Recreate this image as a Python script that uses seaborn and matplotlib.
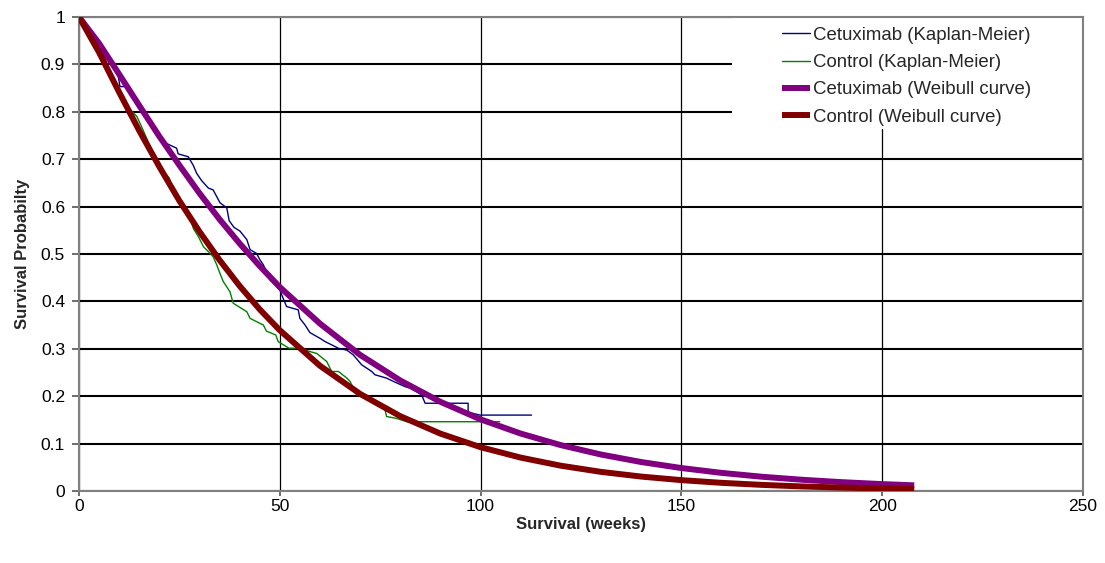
import matplotlib
matplotlib.use("Agg")
import matplotlib.pyplot as plt
from matplotlib.patches import Rectangle
import pandas as pd
import seaborn as sns

# Kaplan-Meier estimates: time in weeks, survival probability
cetuximab_km_weeks = [0, 3, 6, 9.8, 10.2, 11.5, 15, 20, 21.8, 24.3, 24.7, 27.2, 28.5,
                      29.3, 30.5, 32.2, 33.4, 35.1, 36.8, 37.4, 38.6, 40.1, 41.8, 42.6,
                      44.2, 45.1, 45.9, 47.6, 48.8, 50.0, 50.9, 51.7, 54.6, 55.0, 56.3,
                      57.5, 60.0, 61.3, 64.6, 66.7, 68.3, 70.4, 72.9, 73.7, 76.6, 78.3,
                      81.2, 82.4, 84.1, 85.3, 86.2, 96.9, 96.9, 99.9, 112.7]
cetuximab_km_surv = [1.0, 0.965, 0.93, 0.874, 0.853, 0.853, 0.81, 0.75, 0.733, 0.723, 0.711,
                     0.705, 0.686, 0.670, 0.655, 0.639, 0.635, 0.608, 0.597, 0.570, 0.556,
                     0.548, 0.530, 0.509, 0.501, 0.487, 0.477, 0.445, 0.435, 0.424, 0.405,
                     0.389, 0.382, 0.364, 0.350, 0.334, 0.322, 0.315, 0.301, 0.297, 0.287,
                     0.266, 0.252, 0.245, 0.238, 0.231, 0.220, 0.217, 0.209, 0.203, 0.185,
                     0.185, 0.166, 0.160, 0.160]

control_km_weeks = [0, 3.5, 6, 8, 10, 11, 14.4, 15.6, 18.5, 20.2, 21.2, 22.5, 23.5, 25.1,
                    26.2, 27.6, 28.5, 29.7, 31.0, 32.2, 33.4, 34.3, 35.1, 35.9, 37.6, 38.4,
                    41.8, 42.6, 45.9, 46.7, 49.0, 49.6, 52.3, 55.0, 57.5, 59.2, 61.7, 62.9,
                    64.6, 66.7, 67.5, 69.1, 71.2, 72.5, 74.1, 76.2, 76.6, 79.1, 81.6, 104.8]
control_km_surv = [1.0, 0.965, 0.92, 0.88, 0.845, 0.82, 0.79, 0.768, 0.712, 0.690, 0.672,
                   0.660, 0.628, 0.614, 0.600, 0.578, 0.553, 0.537, 0.515, 0.505, 0.494,
                   0.477, 0.459, 0.442, 0.420, 0.396, 0.378, 0.364, 0.350, 0.337, 0.329,
                   0.315, 0.301, 0.301, 0.294, 0.290, 0.273, 0.252, 0.252, 0.238, 0.231,
                   0.203, 0.196, 0.192, 0.181, 0.171, 0.157, 0.153, 0.146, 0.146]

# Fitted Weibull survival curves, tabulated in weeks
weibull_weeks = [0, 5, 10, 15, 20, 25, 30, 35, 40, 45, 50, 60, 70, 80, 90, 100, 110,
                 120, 130, 140, 150, 160, 170, 180, 190, 200, 208]
cetuximab_weibull = [1.0, 0.944, 0.879, 0.813, 0.748, 0.687, 0.628, 0.573, 0.522, 0.4745,
                     0.430, 0.353, 0.287, 0.233, 0.188, 0.151, 0.121, 0.0966, 0.0768,
                     0.0610, 0.0483, 0.0381, 0.0300, 0.0236, 0.0185, 0.0144, 0.0118]
control_weibull = [1.0, 0.925, 0.841, 0.760, 0.684, 0.612, 0.547, 0.487, 0.4325, 0.383,
                   0.339, 0.264, 0.2047, 0.1577, 0.1209, 0.0923, 0.0703, 0.0532, 0.0402,
                   0.0303, 0.0228, 0.0171, 0.0128, 0.0095, 0.0071, 0.0052, 0.0041]

series_labels = ["Cetuximab (Kaplan-Meier)", "Control (Kaplan-Meier)",
                 "Cetuximab (Weibull curve)", "Control (Weibull curve)"]
x_ticks = [0, 50, 100, 150, 200, 250]
y_ticks = [0, 0.1, 0.2, 0.3, 0.4, 0.5, 0.6, 0.7, 0.8, 0.9, 1.0]
y_tick_labels = ["0", "0.1", "0.2", "0.3", "0.4", "0.5", "0.6", "0.7", "0.8", "0.9", "1"]

sns.set_style("white")
plt.rcParams["font.family"] = ["Liberation Sans", "DejaVu Sans"]

fig, ax = plt.subplots(figsize=(11.05, 5.63), dpi=100)
fig.subplots_adjust(left=0.0715, right=0.980, top=0.970, bottom=0.128)

km_cet = pd.DataFrame({"weeks": cetuximab_km_weeks, "surv": cetuximab_km_surv})
km_ctl = pd.DataFrame({"weeks": control_km_weeks, "surv": control_km_surv})
wb = pd.DataFrame({"weeks": weibull_weeks, "cet": cetuximab_weibull, "ctl": control_weibull})

sns.lineplot(data=km_cet, x="weeks", y="surv", ax=ax, color="#000080", linewidth=1.0,
             label=series_labels[0], sort=False, estimator=None, zorder=3)
sns.lineplot(data=km_ctl, x="weeks", y="surv", ax=ax, color="#008000", linewidth=1.0,
             label=series_labels[1], sort=False, estimator=None, zorder=3)
sns.lineplot(data=wb, x="weeks", y="cet", ax=ax, color="#800080", linewidth=4.3,
             label=series_labels[2], sort=False, estimator=None, zorder=4,
             solid_capstyle="butt")
sns.lineplot(data=wb, x="weeks", y="ctl", ax=ax, color="#800000", linewidth=4.3,
             label=series_labels[3], sort=False, estimator=None, zorder=4,
             solid_capstyle="butt")

ax.set_xlim(0, 250)
ax.set_ylim(0, 1)
ax.set_xticks(x_ticks)
ax.set_xticklabels([str(v) for v in x_ticks])
ax.set_yticks(y_ticks)
ax.set_yticklabels(y_tick_labels)

ax.set_axisbelow(True)
ax.yaxis.grid(True, color="black", linewidth=1.5)
ax.xaxis.grid(True, color="black", linewidth=0.9)

for sp in ax.spines.values():
    sp.set_visible(True)
    sp.set_color("#808080")
    sp.set_linewidth(1.5)

ax.tick_params(axis="both", direction="out", width=1.2, color="#555555",
               labelsize=12.5, labelcolor="black")
ax.tick_params(axis="x", length=3.5, pad=2)
ax.tick_params(axis="y", length=5, pad=5)
ax.xaxis.set_ticks_position("bottom")
ax.yaxis.set_ticks_position("left")

ax.set_xlabel("Survival (weeks)", fontsize=12, fontweight="bold", labelpad=2.5)
ax.set_ylabel("Survival Probabilty", fontsize=12, fontweight="bold", labelpad=8)

# white panel behind the legend entries
ax.add_patch(Rectangle((0.650, 0.764), 0.35, 0.236, transform=ax.transAxes,
                       facecolor="white", edgecolor="none", zorder=1.5))

ax.legend(loc="upper left", bbox_to_anchor=(0.700, 0.979), frameon=False,
          borderpad=0, borderaxespad=0, handlelength=1.5, handletextpad=0.2,
          labelspacing=0.55, fontsize=13.4)

fig.savefig("out.png", dpi=100)
